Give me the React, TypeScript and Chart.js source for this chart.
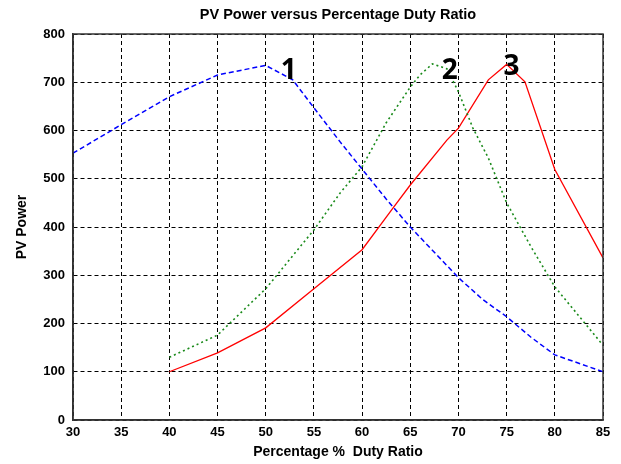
import React, { useEffect, useRef } from "react";
import { Chart, registerables } from "chart.js";

Chart.register(...registerables);

const xTicks = [30, 35, 40, 45, 50, 55, 60, 65, 70, 75, 80, 85];
const yTicks = [0, 100, 200, 300, 400, 500, 600, 700, 800];

const curve1X = [30, 35, 40, 45, 50, 52.8, 55, 57.7, 60, 62.5, 65, 70, 72.5, 75, 77.5, 80, 85];
const curve1Y = [553, 612, 670, 715, 735, 705, 647, 577, 520, 458, 400, 295, 250, 214, 172, 135, 100];

const curve2X = [40, 45, 50, 55, 57.7, 60, 62.5, 65, 66, 67.3, 68.8, 70, 71.5, 73.1, 75, 77.5, 80, 85];
const curve2Y = [130, 176, 272, 394, 470, 525, 616, 690, 715, 738, 728, 680, 605, 543, 450, 360, 276, 155];

const curve3X = [40, 45, 50, 55, 60, 63.2, 65, 68.8, 70, 73.1, 75, 76.9, 80, 85];
const curve3Y = [100, 139, 191, 272, 353, 439, 487, 580, 605, 705, 737, 701, 519, 336];

const curveLabels = ["1", "2", "3"];
const labelX = [52.4, 69.1, 75.5];
const labelY = [723, 723, 731];

const titleText = "PV Power versus Percentage Duty Ratio";
const xTitle = "Percentage %  Duty Ratio";
const yTitle = "PV Power";

const toPoints = (xs: number[], ys: number[]) => xs.map((x, i) => ({ x, y: ys[i] }));

const decorPlugin = {
  id: "decor",
  afterDraw(chart: any) {
    const { ctx, chartArea, scales } = chart;
    ctx.save();
    ctx.strokeStyle = "#333333";
    ctx.lineWidth = 1.5;
    ctx.setLineDash([]);
    ctx.strokeRect(chartArea.left, chartArea.top, chartArea.right - chartArea.left, chartArea.bottom - chartArea.top);
    ctx.fillStyle = "#000";
    ctx.font = "bold 14.5px 'Liberation Sans', Arial, sans-serif";
    ctx.textAlign = "center";
    ctx.textBaseline = "middle";
    ctx.fillText(titleText, (chartArea.left + chartArea.right) / 2, 15);
    ctx.font = "bold 28px 'Open Sans', 'Liberation Sans', Arial, sans-serif";
    curveLabels.forEach((t, i) => {
      const px = scales.x.getPixelForValue(labelX[i]);
      const py = scales.y.getPixelForValue(labelY[i]);
      ctx.fillText(t, px, py);
    });
    ctx.restore();
  },
};

export default function App() {
  const ref = useRef<HTMLCanvasElement>(null);
  useEffect(() => {
    if (!ref.current) return;
    const tickFont = { family: "'Liberation Sans', Arial, sans-serif", size: 13, weight: "bold" as const };
    const titleFont = { family: "'Liberation Sans', Arial, sans-serif", size: 14, weight: "bold" as const };
    const chart = new Chart(ref.current, {
      type: "line",
      data: {
        datasets: [
          {
            label: "1",
            data: toPoints(curve1X, curve1Y),
            borderColor: "#0000ff",
            borderWidth: 1.5,
            borderDash: [5, 3],
            pointRadius: 0,
            tension: 0,
            fill: false,
          },
          {
            label: "2",
            data: toPoints(curve2X, curve2Y),
            borderColor: "#1a8a1a",
            borderWidth: 1.6,
            borderDash: [2, 3],
            pointRadius: 0,
            tension: 0,
            fill: false,
          },
          {
            label: "3",
            data: toPoints(curve3X, curve3Y),
            borderColor: "#ff0000",
            borderWidth: 1.3,
            pointRadius: 0,
            tension: 0,
            fill: false,
          },
        ],
      },
      options: {
        animation: false,
        responsive: true,
        maintainAspectRatio: false,
        layout: { padding: { top: 34, right: 18, left: 0, bottom: 0 } },
        plugins: { legend: { display: false }, tooltip: { enabled: false } },
        scales: {
          x: {
            type: "linear",
            min: 30,
            max: 85,
            afterBuildTicks: (s: any) => {
              s.ticks = xTicks.map((v) => ({ value: v }));
            },
            afterFit: (s: any) => {
              s.height = 44;
            },
            ticks: { color: "#000", font: tickFont, padding: 5, maxRotation: 0 },
            grid: { color: "#000", lineWidth: 1, drawTicks: false },
            border: { display: true, color: "#333", width: 1.5, dash: [4, 3] },
            title: {
              display: true,
              text: xTitle,
              color: "#000",
              font: titleFont,
              padding: { top: 0, bottom: 3 },
            },
          },
          y: {
            type: "linear",
            min: 0,
            max: 800,
            afterBuildTicks: (s: any) => {
              s.ticks = yTicks.map((v) => ({ value: v }));
            },
            afterFit: (s: any) => {
              s.width = 73;
            },
            ticks: { color: "#000", font: tickFont, padding: 8 },
            grid: { color: "#000", lineWidth: 1, drawTicks: false },
            border: { display: true, color: "#333", width: 1.5, dash: [4, 3] },
            title: {
              display: true,
              text: yTitle,
              color: "#000",
              font: titleFont,
              padding: { top: 14, bottom: 0 },
            },
          },
        },
      },
      plugins: [decorPlugin],
    });
    return () => chart.destroy();
  }, []);
  return (
    <div style={{ position: "fixed", left: 0, top: 0, width: 621, height: 464, background: "#fff" }}>
      <canvas ref={ref} />
    </div>
  );
}
